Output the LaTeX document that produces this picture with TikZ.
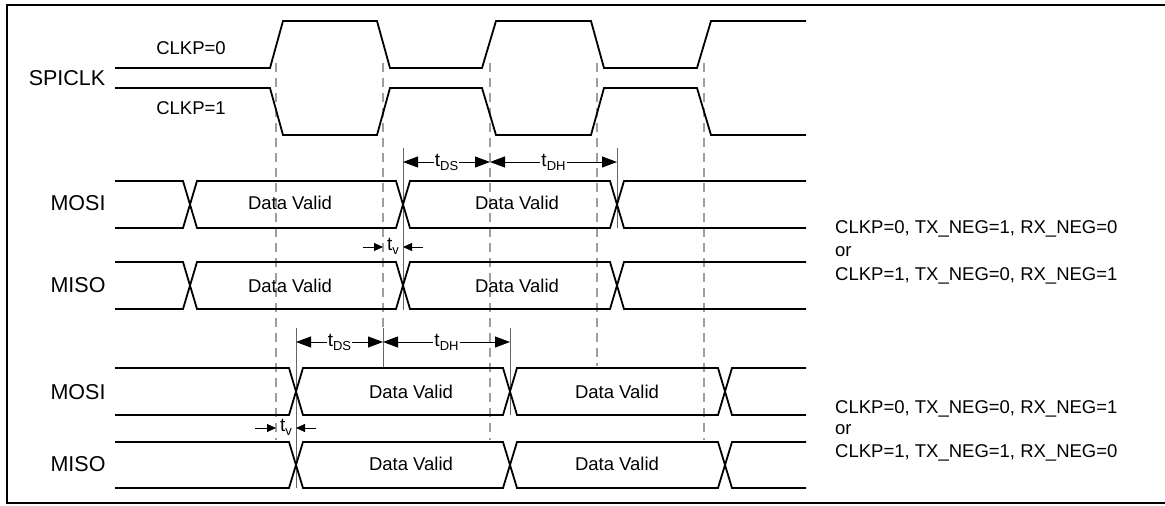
\documentclass[tikz,border=0pt]{standalone}
\usepackage{fontspec}
\setmainfont{Liberation Sans}
\usetikzlibrary{arrows.meta}
\newcommand\tlab[1]{{\fontsize{19}{19}\selectfont t}{\fontsize{13}{13}\selectfont\raisebox{-4pt}{#1}}}
\begin{document}
\begin{tikzpicture}[x=1pt,y=-1pt,
  wave/.style={line width=1.8pt},
  gridline/.style={draw=black!38, line width=1.5pt, dash pattern=on 9pt off 6pt},
  ext/.style={draw=black!60, line width=0.8pt},
  dim/.style={line width=0.9pt, {Triangle[length=15pt,width=11pt]}-{Triangle[length=15pt,width=11pt]}},
  tvarrow/.style={line width=0.9pt, -{Triangle[length=9pt,width=8pt]}},
  txt/.style={font=\fontsize{18.5}{22}\selectfont, inner sep=0pt},
  sig/.style={font=\fontsize{21.5}{24}\selectfont, inner sep=0pt},
  dimlab/.style={fill=white, inner sep=1pt}]
\useasboundingbox (0,0) rectangle (1165,506);
\fill[white] (0,0) rectangle (1165,506);
% frame
\draw[line width=2.8pt] (7,5) rectangle (1185,503);

% dashed reference lines
\coordinate (g1t) at (276,63); \coordinate (g1b) at (276,440);
\coordinate (g2t) at (383,63); \coordinate (g2b) at (383,328);
\coordinate (g3t) at (490,63); \coordinate (g3b) at (490,440);
\coordinate (g4t) at (597,63); \coordinate (g4b) at (597,366);
\coordinate (g5t) at (704,63); \coordinate (g5b) at (704,440);
\draw[gridline] (g1t) -- (g1b);
\draw[gridline] (g2t) -- (g2b);
\draw[gridline] (g3t) -- (g3b);
\draw[gridline] (g4t) -- (g4b);
\draw[gridline] (g5t) -- (g5b);

% extension lines
\coordinate (x1t) at (403,148); \coordinate (x1b) at (403,310);
\coordinate (x2t) at (617,148); \coordinate (x2b) at (617,228);
\coordinate (x3t) at (296,328); \coordinate (x3b) at (296,488);
\coordinate (x4t) at (383,328); \coordinate (x4b) at (383,368);
\coordinate (x5t) at (510,328); \coordinate (x5b) at (510,415);
\draw[ext] (x1t) -- (x1b);
\draw[ext] (x2t) -- (x2b);
\draw[ext] (x3t) -- (x3b);
\draw[ext] (x4t) -- (x4b);
\draw[ext] (x5t) -- (x5b);

% SPICLK
\draw[wave] (115,68) -- (270,68) -- (283,21) -- (377,21) -- (390,68) -- (482,68) -- (496,21) -- (591,21) -- (604,68) -- (697,68) -- (711,21) -- (806,21);
\draw[wave] (115,88) -- (270,88) -- (283,135) -- (377,135) -- (390,88) -- (482,88) -- (496,135) -- (591,135) -- (604,88) -- (697,88) -- (711,135) -- (806,135);

% top MOSI
\draw[wave] (115,181) -- (183,181) -- (197,228) -- (396,228) -- (410,181) -- (610,181) -- (624,228) -- (806,228);
\draw[wave] (115,228) -- (183,228) -- (197,181) -- (396,181) -- (410,228) -- (610,228) -- (624,181) -- (806,181);
% top MISO
\draw[wave] (115,262) -- (183,262) -- (197,309) -- (396,309) -- (410,262) -- (610,262) -- (624,309) -- (806,309);
\draw[wave] (115,309) -- (183,309) -- (197,262) -- (396,262) -- (410,309) -- (610,309) -- (624,262) -- (806,262);
% bottom MOSI
\draw[wave] (115,368) -- (289,368) -- (303,415) -- (503,415) -- (517,368) -- (718,368) -- (732,415) -- (806,415);
\draw[wave] (115,415) -- (289,415) -- (303,368) -- (503,368) -- (517,415) -- (718,415) -- (732,368) -- (806,368);
% bottom MISO
\draw[wave] (115,442) -- (289,442) -- (303,488) -- (503,488) -- (517,442) -- (718,442) -- (732,488) -- (806,488);
\draw[wave] (115,488) -- (289,488) -- (303,442) -- (503,442) -- (517,488) -- (718,488) -- (732,442) -- (806,442);

% dimension arrows, top group
\coordinate (dsA) at (403,162); \coordinate (dsB) at (490,162); \coordinate (dhB) at (617,162);
\draw[dim] (dsA) -- node[dimlab] (tds1) {\tlab{DS}} (dsB);
\draw[dim] (dsB) -- node[dimlab] (tdh1) {\tlab{DH}} (dhB);
\coordinate (tvL0) at (363,247); \coordinate (tvL1) at (383,247);
\coordinate (tvR0) at (423,247); \coordinate (tvR1) at (403,247);
\draw[tvarrow] (tvL0) -- (tvL1);
\draw[tvarrow] (tvR0) -- (tvR1);
\node[inner sep=0pt] (tv1) at (393,246) {\tlab{v}};

% dimension arrows, bottom group
\coordinate (bsA) at (296,342); \coordinate (bsB) at (383,342); \coordinate (bhB) at (510,342);
\draw[dim] (bsA) -- node[dimlab] (tds2) {\tlab{DS}} (bsB);
\draw[dim] (bsB) -- node[dimlab] (tdh2) {\tlab{DH}} (bhB);
\coordinate (bvL0) at (255,428); \coordinate (bvL1) at (276,428);
\coordinate (bvR0) at (316,428); \coordinate (bvR1) at (296,428);
\draw[tvarrow] (bvL0) -- (bvL1);
\draw[tvarrow] (bvR0) -- (bvR1);
\node[inner sep=0pt] (tv2) at (286,427) {\tlab{v}};

% signal labels
\node[sig] (spiclk) at (67,78) {SPICLK};
\node[txt] (clkp0) at (191,48) {CLKP=0};
\node[txt] (clkp1) at (191,108) {CLKP=1};
\node[sig] (mosi1) at (78,203) {MOSI};
\node[sig] (miso1) at (78,285) {MISO};
\node[sig] (mosi2) at (78,392) {MOSI};
\node[sig] (miso2) at (78,464) {MISO};

% data valid labels
\node[txt] (dv1) at (290,203) {Data Valid};
\node[txt] (dv2) at (517,203) {Data Valid};
\node[txt] (dv3) at (290,286) {Data Valid};
\node[txt] (dv4) at (517,286) {Data Valid};
\node[txt] (dv5) at (411,392) {Data Valid};
\node[txt] (dv6) at (617,392) {Data Valid};
\node[txt] (dv7) at (411,464) {Data Valid};
\node[txt] (dv8) at (617,464) {Data Valid};

% mode notes
\node[txt, anchor=base west] (n1) at (835,233) {CLKP=0, TX\_NEG=1, RX\_NEG=0};
\node[txt, anchor=base west] (n2) at (835,256) {or};
\node[txt, anchor=base west] (n3) at (835,280) {CLKP=1, TX\_NEG=0, RX\_NEG=1};
\node[txt, anchor=base west] (n4) at (835,413) {CLKP=0, TX\_NEG=0, RX\_NEG=1};
\node[txt, anchor=base west] (n5) at (835,434) {or};
\node[txt, anchor=base west] (n6) at (835,457) {CLKP=1, TX\_NEG=1, RX\_NEG=0};
\end{tikzpicture}
\end{document}
